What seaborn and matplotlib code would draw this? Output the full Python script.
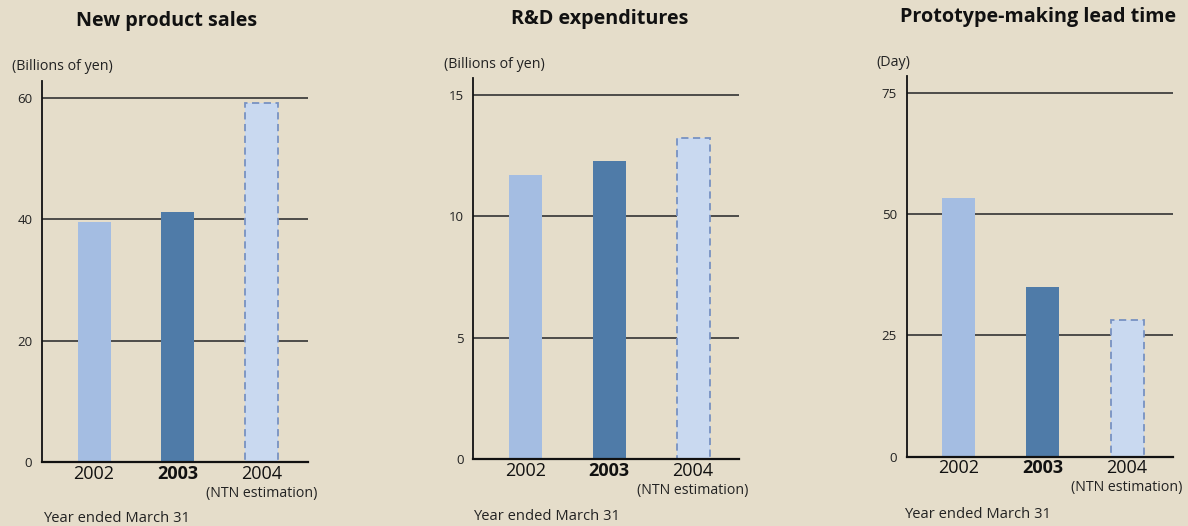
import matplotlib
matplotlib.use("Agg")
import matplotlib.pyplot as plt
import matplotlib.transforms as mtransforms
import seaborn as sns
import pandas as pd

# ---- data ----
years = ["2002", "2003", "2004"]
titles = ["New product sales", "R&D expenditures", "Prototype-making lead time"]
units = ["(Billions of yen)", "(Billions of yen)", "(Day)"]
sales = [39.5, 41.1, 59.1]
rnd = [11.7, 12.3, 13.25]
lead_time = [53.3, 35.0, 28.1]
yticks_list = [[0, 20, 40, 60], [0, 5, 10, 15], [0, 25, 50, 75]]
ylims = [62.75, 15.69, 78.44]
estimate_note = "(NTN estimation)"
xlabel_text = "Year ended March 31"

series = [sales, rnd, lead_time]

BG = "#E5DDCA"
palette = {"2002": "#A4BDE2", "2003": "#4F7BA8", "2004": "#C9D9F0"}
EDGE = "#7892C2"

sns.set_theme(style="white")
plt.rcParams["font.family"] = ["Open Sans", "DejaVu Sans"]

fig = plt.figure(figsize=(11.88, 5.26), dpi=100, facecolor=BG)
W, H = 1188, 526

axes_px = [  # left, right, top, bottom in pixels
    (42, 308, 81, 462),
    (473.3, 739.3, 78.3, 459.3),
    (906.7, 1173.3, 76, 456.7),
]
title_pos = [(167, 21), (600, 19), (1038, 17)]
unit_pos = [(12, 67), (444, 65), (876, 63)]
xlab_pos = [(43, 519), (473, 517), (904, 514)]

for i in range(3):
    l, r, t, b = axes_px[i]
    ax = fig.add_axes([l / W, 1 - b / H, (r - l) / W, (b - t) / H])
    ax.set_facecolor(BG)
    df = pd.DataFrame({"year": years, "value": series[i]})
    sns.barplot(data=df, x="year", y="value", hue="year", palette=palette,
                width=0.393, legend=False, ax=ax, saturation=1, zorder=2)
    for p in ax.patches:
        cx = p.get_x() + p.get_width() / 2
        if abs(cx - 2) < 0.3:
            p.set_edgecolor(EDGE)
            p.set_linestyle((0, (4, 2.5)))
            p.set_linewidth(1.3)
        else:
            p.set_edgecolor("none")
    ax.set_xlim(-0.62, 2.55)
    ax.set_ylim(0, ylims[i])
    ax.set_yticks(yticks_list[i])
    ax.set_yticklabels([str(v) for v in yticks_list[i]], fontsize=9.5, color="#222222")
    ax.yaxis.grid(True, color="#333333", linewidth=1.2)
    ax.set_axisbelow(True)
    ax.tick_params(axis="both", length=0)
    ax.tick_params(axis="y", pad=7)
    ax.tick_params(axis="x", pad=2)
    ax.set_xticks([0, 1, 2])
    ax.set_xticklabels(years, fontsize=13, color="#111111")
    for lbl in ax.get_xticklabels():
        if lbl.get_text() == "2003":
            lbl.set_fontweight("bold")
    ax.set_xlabel("")
    ax.set_ylabel("")
    for s in ["top", "right"]:
        ax.spines[s].set_visible(False)
    ax.spines["left"].set_color("#111111")
    ax.spines["left"].set_linewidth(1.3)
    ax.spines["bottom"].set_color("#111111")
    ax.spines["bottom"].set_linewidth(1.6)

    trans = mtransforms.blended_transform_factory(ax.transData, ax.transAxes)
    ax.text(2, -0.082, estimate_note, transform=trans, ha="center", va="center",
            fontsize=10.2, color="#222222")

    tx, ty = title_pos[i]
    fig.text(tx / W, 1 - ty / H, titles[i], ha="center", va="center",
             fontsize=14.2, fontweight="bold", color="#111111")
    ux, uy = unit_pos[i]
    fig.text(ux / W, 1 - uy / H, units[i], ha="left", va="center",
             fontsize=10.3, color="#222222")
    xx, xy = xlab_pos[i]
    fig.text(xx / W, 1 - xy / H, xlabel_text, ha="left", va="center",
             fontsize=10.6, color="#222222")

fig.savefig("out.png", dpi=100, facecolor=BG)
